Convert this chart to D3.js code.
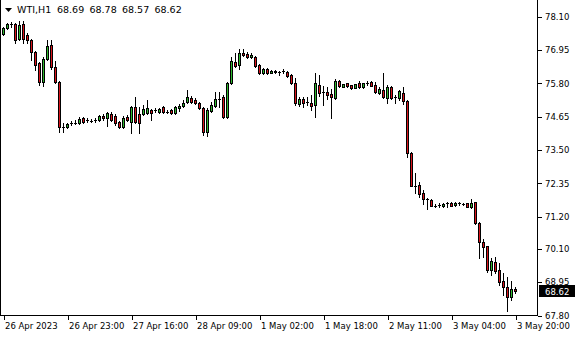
<!DOCTYPE html>
<html>
<head>
<meta charset="utf-8">
<script src="https://cdn.jsdelivr.net/npm/d3@7"></script>
<style>
  body { margin: 0; background: #fff; }
  svg text { font-family: "DejaVu Sans", Verdana, sans-serif; font-size: 8.5px; fill: #000; }
  svg text.title { font-size: 9.5px; }
</style>
</head>
<body>
<div id="chart"></div>
<script>
// Chart size
var svgWidth = 580;
var svgHeight = 340;

// Hourly WTI bars
var opens = [77.48, 77.69, 77.82, 77.82, 77.31, 77.82, 77.45, 77.27, 76.86, 76.48,
  75.83, 76.62, 77.10, 76.34, 75.83, 74.27, 74.27, 74.41, 74.43, 74.41,
  74.59, 74.52, 74.48, 74.52, 74.52, 74.66, 74.59, 74.72, 74.66, 74.45,
  74.27, 74.62, 74.45, 74.97, 74.72, 74.72, 74.76, 74.86, 74.86, 74.79,
  74.97, 74.79, 74.86, 74.76, 74.93, 75.00, 75.14, 75.28, 75.21, 75.10,
  74.93, 74.10, 74.83, 75.00, 75.24, 75.31, 74.62, 75.79, 76.52, 76.41,
  76.83, 76.79, 76.69, 76.69, 76.41, 76.14, 76.27, 76.15, 76.22, 76.18,
  76.21, 76.18, 76.07, 75.78, 75.07, 75.24, 75.15, 75.11, 75.02, 75.72,
  75.49, 75.49, 75.41, 75.27, 75.86, 75.66, 75.78, 75.72, 75.63, 75.78,
  75.64, 75.80, 75.84, 75.72, 75.46, 75.55, 75.27, 75.64, 75.30, 75.27,
  75.46, 75.18, 73.39, 72.25, 72.28, 72.00, 71.78, 71.76, 71.56, 71.58,
  71.54, 71.65, 71.67, 71.58, 71.65, 71.61, 71.65, 71.51, 71.68, 70.98,
  70.32, 70.18, 69.35, 69.64, 69.35, 68.98, 68.75, 68.43, 68.69];

var highs = [77.72, 77.86, 77.89, 77.86, 77.93, 77.93, 77.51, 77.31, 76.89, 76.52,
  76.69, 77.27, 77.27, 76.55, 75.86, 74.41, 74.41, 74.48, 74.52, 74.62,
  74.62, 74.59, 74.55, 74.59, 74.69, 74.72, 74.80, 74.79, 74.72, 74.48,
  74.66, 74.69, 75.00, 75.31, 74.97, 75.03, 75.21, 74.90, 74.93, 74.93,
  75.00, 74.86, 74.90, 75.00, 75.07, 75.21, 75.55, 75.34, 75.28, 75.14,
  74.97, 74.93, 75.14, 75.48, 75.48, 75.38, 75.83, 76.69, 76.83, 76.96,
  76.96, 76.86, 76.83, 76.72, 76.45, 76.31, 76.31, 76.24, 76.24, 76.22,
  76.26, 76.21, 76.10, 75.96, 75.30, 75.30, 75.32, 75.38, 76.14, 76.07,
  75.69, 75.66, 75.59, 75.92, 75.89, 75.76, 75.79, 75.74, 75.77, 75.87,
  75.80, 75.87, 75.86, 75.84, 75.64, 76.15, 75.72, 75.69, 75.38, 75.55,
  75.64, 75.21, 73.41, 72.70, 72.39, 72.09, 71.83, 71.78, 71.62, 71.65,
  71.65, 71.69, 71.69, 71.69, 71.70, 71.65, 71.67, 71.78, 71.69, 71.00,
  70.41, 70.19, 69.75, 69.79, 69.60, 69.26, 69.12, 68.98, 68.78];

var lows = [77.45, 77.65, 77.72, 77.17, 77.27, 77.17, 77.17, 76.58, 76.24, 75.72,
  75.69, 76.58, 76.27, 75.79, 74.10, 74.10, 74.24, 74.34, 74.38, 74.38,
  74.41, 74.45, 74.45, 74.45, 74.48, 74.52, 74.31, 74.48, 74.34, 74.24,
  74.24, 74.48, 74.07, 74.41, 74.07, 74.69, 74.72, 74.52, 74.79, 74.76,
  74.76, 74.76, 74.72, 74.72, 74.83, 74.97, 75.10, 75.10, 75.07, 74.90,
  74.00, 73.97, 74.79, 74.97, 74.97, 74.59, 74.59, 75.76, 76.34, 76.27,
  76.72, 76.65, 76.65, 76.34, 76.10, 76.10, 76.10, 76.14, 76.14, 76.07,
  76.13, 75.99, 75.76, 75.03, 75.00, 74.98, 75.03, 74.86, 74.63, 75.34,
  75.03, 75.23, 74.58, 75.23, 75.66, 75.65, 75.66, 75.59, 75.61, 75.62,
  75.62, 75.72, 75.68, 75.45, 75.41, 75.28, 75.11, 75.23, 75.09, 75.21,
  75.07, 73.25, 72.24, 71.99, 71.87, 71.62, 71.45, 71.54, 71.51, 71.51,
  71.52, 71.53, 71.54, 71.55, 71.59, 71.59, 71.52, 71.49, 70.92, 69.75,
  69.81, 69.29, 69.18, 69.26, 68.83, 68.49, 67.95, 68.32, 68.57];

var closes = [77.69, 77.82, 77.81, 77.27, 77.79, 77.31, 77.27, 76.86, 76.41, 75.83,
  76.62, 77.07, 76.34, 75.83, 74.27, 74.29, 74.38, 74.42, 74.43, 74.55,
  74.45, 74.52, 74.48, 74.52, 74.66, 74.59, 74.76, 74.52, 74.41, 74.27,
  74.59, 74.52, 74.97, 74.45, 74.41, 74.90, 74.93, 74.76, 74.87, 74.90,
  74.79, 74.79, 74.76, 74.97, 75.00, 75.10, 75.31, 75.14, 75.10, 74.93,
  74.10, 74.86, 75.03, 75.24, 75.25, 74.62, 75.79, 76.55, 76.38, 76.83,
  76.76, 76.69, 76.76, 76.38, 76.14, 76.27, 76.14, 76.22, 76.17, 76.18,
  76.21, 76.03, 75.78, 75.09, 75.24, 75.10, 75.15, 75.00, 75.78, 75.46,
  75.49, 75.38, 75.30, 75.87, 75.70, 75.75, 75.69, 75.61, 75.76, 75.64,
  75.78, 75.80, 75.70, 75.47, 75.58, 75.30, 75.64, 75.27, 75.30, 75.52,
  75.18, 73.37, 72.25, 72.25, 71.97, 71.78, 71.78, 71.56, 71.56, 71.58,
  71.62, 71.65, 71.56, 71.67, 71.65, 71.61, 71.53, 71.67, 70.98, 70.30,
  70.15, 69.35, 69.67, 69.33, 68.95, 68.75, 68.43, 68.68, 68.62];

// Price scale labels and time scale labels
var priceTicks = [78.10, 76.95, 75.80, 74.65, 73.50, 72.35, 71.20, 70.10, 68.95, 67.80];
var timeTickBars = [0, 16, 32, 48, 64, 80, 96, 112, 128];
var timeLabels = ["26 Apr 2023", "26 Apr 23:00", "27 Apr 16:00", "28 Apr 09:00",
  "1 May 02:00", "1 May 18:00", "2 May 11:00", "3 May 04:00", "3 May 20:00"];

var symbol = "WTI,H1";
var upColor = "#2eb82e";
var downColor = "#d9141c";

// Plot frame
var frame = { left: 0, right: 537, bottom: 315 };

var bars = d3.range(opens.length).map(function(i) {
  return { i: i, o: opens[i], h: highs[i], l: lows[i], c: closes[i] };
});

var svg = d3.select("#chart")
  .append("svg")
  .attr("width", svgWidth)
  .attr("height", svgHeight)
  .attr("shape-rendering", "crispEdges");

// Scales: one bar every 4 px, price mapped to pixel rows
var xScale = d3.scaleLinear()
  .domain([0, bars.length - 1])
  .range([3, 3 + 4 * (bars.length - 1)]);

var yScale = d3.scaleLinear()
  .domain([67.80, 78.10])
  .range([315, 16]);

function px(v) { return Math.round(yScale(v)); }

// Frame lines (left, right, bottom)
svg.append("line")
  .attr("x1", frame.left + 0.5).attr("x2", frame.left + 0.5)
  .attr("y1", 0).attr("y2", frame.bottom + 1)
  .attr("stroke", "#000");
svg.append("line")
  .attr("x1", frame.right + 0.5).attr("x2", frame.right + 0.5)
  .attr("y1", 0).attr("y2", frame.bottom + 1)
  .attr("stroke", "#000");
svg.append("line")
  .attr("x1", frame.left).attr("x2", frame.right + 1)
  .attr("y1", frame.bottom + 0.5).attr("y2", frame.bottom + 0.5)
  .attr("stroke", "#000");

// Price axis on the right
var yAxis = d3.axisRight(yScale)
  .tickValues(priceTicks)
  .tickFormat(d3.format(".2f"))
  .tickSize(4)
  .tickPadding(3);

var yAxisG = svg.append("g")
  .attr("transform", `translate(${frame.right + 1}, 0.5)`)
  .call(yAxis);
yAxisG.select(".domain").remove();
yAxisG.selectAll("text")
  .attr("font-family", null).attr("font-size", null)
  .attr("dy", "0.32em");

// Time axis at the bottom
var xAxis = d3.axisBottom(xScale)
  .tickValues(timeTickBars)
  .tickFormat(function(d, i) { return timeLabels[i]; })
  .tickSize(4)
  .tickPadding(2);

var xAxisG = svg.append("g")
  .attr("transform", `translate(0.5, ${frame.bottom + 1})`)
  .call(xAxis);
xAxisG.select(".domain").remove();
xAxisG.selectAll("text")
  .attr("font-family", null).attr("font-size", null)
  .attr("text-anchor", "start")
  .attr("x", 1)
  .attr("dy", "0.85em");

// Candles
var candles = svg.append("g").attr("class", "candles");

candles.selectAll("line.wick")
  .data(bars)
  .enter()
  .append("line")
  .attr("class", "wick")
  .attr("x1", d => xScale(d.i) + 0.5)
  .attr("x2", d => xScale(d.i) + 0.5)
  .attr("y1", d => px(d.h))
  .attr("y2", d => px(d.l) + 1)
  .attr("stroke", "#000");

var bodies = bars.filter(d => px(d.o) !== px(d.c));
var dojis = bars.filter(d => px(d.o) === px(d.c));

candles.selectAll("rect.body")
  .data(bodies)
  .enter()
  .append("rect")
  .attr("class", "body")
  .attr("x", d => xScale(d.i) - 0.5)
  .attr("y", d => Math.min(px(d.o), px(d.c)) + 0.5)
  .attr("width", 2)
  .attr("height", d => Math.abs(px(d.o) - px(d.c)))
  .attr("fill", d => d.c >= d.o ? upColor : downColor)
  .attr("stroke", "#000");

candles.selectAll("line.doji")
  .data(dojis)
  .enter()
  .append("line")
  .attr("class", "doji")
  .attr("x1", d => xScale(d.i) - 1)
  .attr("x2", d => xScale(d.i) + 2)
  .attr("y1", d => px(d.c) + 0.5)
  .attr("y2", d => px(d.c) + 0.5)
  .attr("stroke", "#000");

// Last price marker
var last = bars[bars.length - 1];
var lastG = svg.append("g")
  .attr("transform", `translate(${frame.right + 2}, ${px(last.c) - 6})`);
lastG.append("rect")
  .attr("width", 36)
  .attr("height", 12)
  .attr("fill", "#000");
lastG.append("text")
  .attr("x", 6)
  .attr("y", 9.5)
  .style("fill", "#fff")
  .text(d3.format(".2f")(last.c));

// Title with OHLC of the last bar
var title = svg.append("g");
title.append("path")
  .attr("d", "M5,8 L12,8 L8.5,12 Z")
  .attr("fill", "#000")
  .attr("shape-rendering", "auto");
title.append("text")
  .attr("class", "title")
  .attr("x", 17)
  .attr("y", 13)
  .text(symbol);
title.selectAll("text.ohlc")
  .data([last.o, last.h, last.l, last.c])
  .enter()
  .append("text")
  .attr("class", "title ohlc")
  .attr("x", (d, i) => 57 + i * 32.5)
  .attr("y", 13)
  .text(d3.format(".2f"));
</script>
</body>
</html>
